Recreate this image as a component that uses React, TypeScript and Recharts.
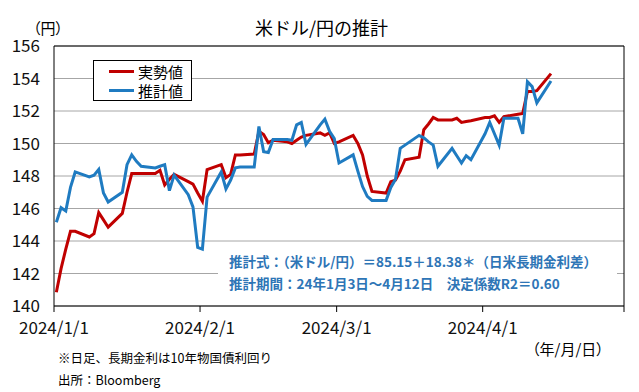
import React from 'react';
import { LineChart, Line, XAxis, YAxis, CartesianGrid, ReferenceLine, Legend } from 'recharts';

// business days (M/D, 2024)
const dates = [
  '1/1', '1/2', '1/3', '1/4', '1/5', '1/8', '1/9', '1/10', '1/11', '1/12', '1/15', '1/16', '1/17', '1/18', '1/19',
  '1/22', '1/23', '1/24', '1/25', '1/26', '1/29', '1/30', '1/31',
  '2/1', '2/2', '2/5', '2/6', '2/7', '2/8', '2/9', '2/12', '2/13', '2/14', '2/15', '2/16', '2/19', '2/20', '2/21',
  '2/22', '2/23', '2/26', '2/27', '2/28', '2/29',
  '3/1', '3/4', '3/5', '3/6', '3/7', '3/8', '3/11', '3/12', '3/13', '3/14', '3/15', '3/18', '3/19', '3/20', '3/21',
  '3/22', '3/25', '3/26', '3/27', '3/28', '3/29',
  '4/1', '4/2', '4/3', '4/4', '4/5', '4/8', '4/9', '4/10', '4/11', '4/12', '4/15',
];

// 実勢値
const actual = [
  140.85, 142.3, 143.5, 144.6, 144.6, 144.25, 144.45, 145.75, 145.3, 144.85, 145.7, 147.0, 148.15, 148.15, 148.15,
  148.15, 148.35, 147.45, 147.8, 148.1, 147.65, 147.5, 146.95,
  146.45, 148.4, 148.7, 147.9, 148.1, 149.3, 149.3, 149.35, 150.75, 150.55, 150.05, 150.2, 150.1, 150.0, 150.2,
  150.4, 150.5, 150.65, 150.5, 150.65, 150.0,
  150.1, 150.5, 150.0, 149.3, 148.0, 147.05, 146.95, 147.65, 147.75, 148.3, 149.0, 149.15, 150.85, 151.2, 151.6,
  151.45, 151.45, 151.55, 151.3, 151.35, 151.4,
  151.6, 151.6, 151.7, 151.3, 151.65, 151.8, 151.85, 153.2, 153.2, 153.25, 154.3,
];

// 推計値
const estimate = [
  145.15, 146.05, 145.85, 147.3, 148.25, 147.95, 148.05, 148.4, 146.95, 146.4, 147.0, 148.7, 149.3, 148.9, 148.6,
  148.5, 148.6, 148.7, 147.1, 148.05, 146.85, 146.1, 143.6,
  143.5, 146.7, 148.25, 147.2, 147.75, 148.5, 148.55, 148.55, 151.05, 149.5, 149.45, 150.25, 150.25, 150.2, 151.15,
  151.3, 149.95, 151.15, 151.5, 150.75, 150.3,
  148.8, 149.3, 148.3, 147.35, 146.75, 146.5, 146.5, 147.3, 147.8, 149.7, 149.9, 150.5, 150.35, 150.1, 149.9,
  148.6, 149.7, 149.25, 148.8, 149.25, 149.0,
  150.6, 151.3, 150.6, 149.9, 151.55, 151.55, 150.6, 153.8, 153.5, 152.5, 153.85,
];

const yTicks = [140, 142, 144, 146, 148, 150, 152, 154, 156];
const xTickDates = ['1/1', '2/1', '3/1', '4/1', '5/1'];
const xTickLabels = ['2024/1/1', '2024/2/1', '2024/3/1', '2024/4/1', ''];

const dayOfYear = (md: string) => {
  const [m, d] = md.split('/').map(Number);
  return (Date.UTC(2024, m - 1, d) - Date.UTC(2024, 0, 1)) / 86400000;
};

const xTicks = xTickDates.map(dayOfYear);
// each day is drawn in the middle of its slot, like a date axis in Excel
const data = dates.map((md, i) => ({ day: dayOfYear(md) + 0.5, actual: actual[i], estimate: estimate[i] }));

const RED = '#c00000';
const BLUE = '#1f7bc1';
const FONT = '"Noto Sans CJK JP", "Noto Sans", sans-serif';

const renderLegend = (props: any) => (
  <div style={{ border: '1px solid #000', background: '#fff', width: 97, height: 38, boxSizing: 'content-box', fontSize: 15, color: '#000', paddingTop: 1 }}>
    {props.payload.map((p: any) => (
      <div key={p.value} style={{ display: 'flex', alignItems: 'center', height: 19 }}>
        <span style={{ display: 'inline-block', width: 25, height: 3, background: p.color, marginLeft: 15, marginRight: 4 }} />
        <span style={{ lineHeight: '19px' }}>{p.value}</span>
      </div>
    ))}
  </div>
);

const abs = (left: number, top: number, extra: React.CSSProperties = {}): React.CSSProperties => ({
  position: 'absolute', left, top, whiteSpace: 'nowrap', ...extra,
});

const App = () => (
  <div style={{ position: 'absolute', left: 0, top: 0, width: 639, height: 392, background: '#fff', fontFamily: FONT, color: '#000' }}>
    <LineChart width={639} height={392} data={data} margin={{ top: 46, right: 15, bottom: 56, left: 0 }}>
      <CartesianGrid vertical={false} stroke="#a6a6a6" strokeWidth={1} />
      <XAxis
        dataKey="day"
        type="number"
        domain={[0, 121]}
        ticks={xTicks}
        interval={0}
        height={30}
        tickFormatter={(v: number) => xTickLabels[xTicks.indexOf(v)] ?? ''}
        axisLine={{ stroke: '#000' }}
        tickLine={{ stroke: '#000' }}
        tickSize={6}
        tickMargin={10}
        tick={{ fill: '#111', fontSize: 17, fontFamily: FONT }}
      />
      <YAxis
        domain={[140, 156]}
        ticks={yTicks}
        interval={0}
        width={54}
        axisLine={{ stroke: '#000' }}
        tickLine={false}
        tickSize={6}
        tickMargin={8}
        tick={{ fill: '#111', fontSize: 17, fontFamily: FONT }}
      />
      <ReferenceLine y={156} stroke="#000" />
      <ReferenceLine x={121} stroke="#000" />
      <Legend
        layout="horizontal"
        align="center"
        verticalAlign="middle"
        content={renderLegend}
        wrapperStyle={{ left: 93, top: 60, width: 99, height: 40 }}
      />
      <Line dataKey="actual" name="実勢値" stroke={RED} strokeWidth={3} dot={false} isAnimationActive={false} />
      <Line dataKey="estimate" name="推計値" stroke={BLUE} strokeWidth={3} dot={false} isAnimationActive={false} />
    </LineChart>

    <div style={abs(255, 15, { fontSize: 18, lineHeight: '24px' })}>米ドル/円の推計</div>
    <div style={abs(33, 17, { fontSize: 15, lineHeight: '22px', fontFeatureSettings: '"palt"' })}>（円）</div>

    <div style={abs(218, 245, { width: 399, height: 55, background: '#fff', color: '#2e75b6', fontWeight: 700, fontSize: 13.5 })}>
      <div style={{ position: 'absolute', left: 11, top: 5, lineHeight: '22px' }}>推計式：（米ドル/円）＝85.15＋18.38＊（日米長期金利差）</div>
      <div style={{ position: 'absolute', left: 11, top: 27, lineHeight: '22px' }}>推計期間：24年1月3日～4月12日　決定係数R2＝0.60</div>
    </div>

    <div style={abs(532, 338, { fontSize: 15, lineHeight: '22px', fontFeatureSettings: '"palt"' })}>（年/月/日）</div>
    <div style={abs(58, 347, { fontSize: 12.5, lineHeight: '22px' })}>※日足、長期金利は10年物国債利回り</div>
    <div style={abs(58, 369, { fontSize: 12.5, lineHeight: '22px' })}>出所：Bloomberg</div>
  </div>
);

export default App;
